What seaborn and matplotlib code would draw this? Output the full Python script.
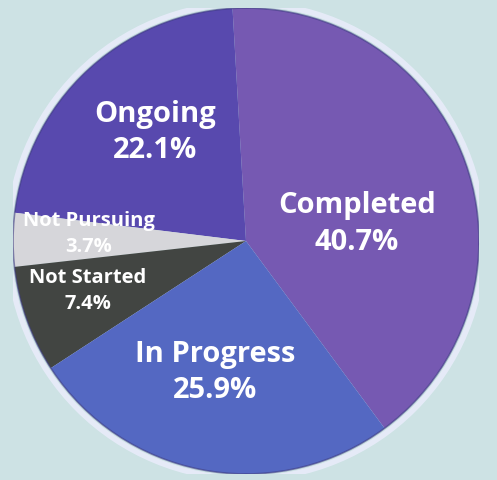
import matplotlib
matplotlib.use("Agg")
import matplotlib.pyplot as plt
import seaborn as sns
import numpy as np

categories = ['Completed', 'Ongoing', 'Not Pursuing', 'Not Started', 'In Progress']
shares = [40.7, 22.1, 3.7, 7.4, 25.9]
colors = ['#7659b2', '#5849ae', '#d6d6da', '#424542', '#5468c2']

# label centres in pie units (x, y of the two-line label block) and font sizes
label_xy = [(0.476, 0.077), (-0.39, 0.47), (-0.674, 0.034), (-0.68, -0.21), (-0.133, -0.56)]
label_size = [21, 21, 14.5, 14.5, 21]

sns.set_theme(style='white')
plt.rcParams['font.family'] = ['Open Sans', 'DejaVu Sans']

fig = plt.figure(figsize=(4.97, 4.81), dpi=100)
fig.patch.set_facecolor('#cde2e4')

cx, cy, r = 246, 242, 233
W, H = 497, 481
ax = fig.add_axes([(cx - r) / W, (H - cy - r) / H, 2 * r / W, 2 * r / H])
ax.set_facecolor('none')

wedges, _ = ax.pie(shares, colors=colors, startangle=-53.5, counterclock=True,
                   radius=1, wedgeprops=dict(linewidth=0))
ax.set_xlim(-1.0, 1.0)
ax.set_ylim(-1.0, 1.0)
ax.set_aspect('auto')
ax.axis('off')

# soft halo round the pie
ax.add_patch(plt.Circle((0, 0), 1.0, fill=False, edgecolor='#3c3a80', lw=1.2, alpha=0.6))
ax.add_patch(plt.Circle((0, 0), 1.02, fill=False, edgecolor='#e8ecfa', lw=4, alpha=0.9))

for cat, val, (x, y), fs in zip(categories, shares, label_xy, label_size):
    ax.text(x, y, f'{cat}\n{val}%', ha='center', va='center', color='white',
            fontsize=fs, fontweight='bold', linespacing=1.35)

fig.savefig('out.png', dpi=100, facecolor=fig.get_facecolor())
